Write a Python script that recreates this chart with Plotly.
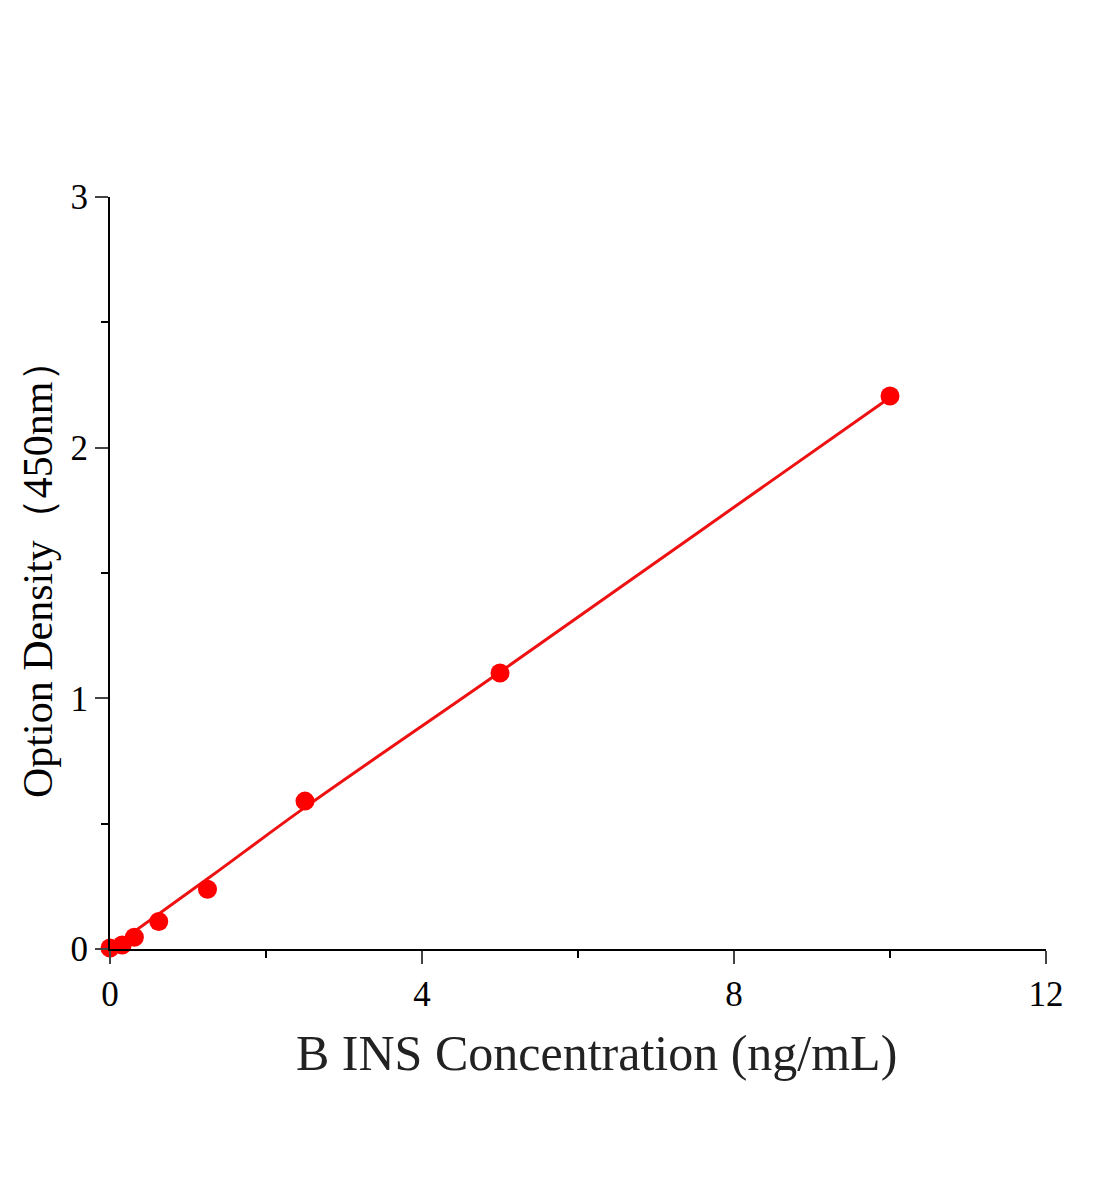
import plotly.graph_objects as go

conc = [0, 0.156, 0.312, 0.625, 1.25, 2.5, 5, 10]
od = [0.004, 0.016, 0.047, 0.110, 0.238, 0.590, 1.101, 2.206]
fit_x = [0, 1.25, 2.5, 5, 7.5, 10]
fit_y = [0.0, 0.28, 0.565, 1.105, 1.653, 2.20]

x_ticks = [0, 4, 8, 12]
y_ticks = [0, 1, 2, 3]

fig = go.Figure()
fig.add_trace(go.Scatter(x=fit_x, y=fit_y, mode="lines",
                         line=dict(color="#EE1111", width=3),
                         line_shape="spline", cliponaxis=False, showlegend=False))
fig.add_trace(go.Scatter(x=conc, y=od, mode="markers",
                         marker=dict(color="#FF0000", size=19),
                         cliponaxis=False, showlegend=False))

font = "Liberation Serif, Times New Roman, serif"
fig.update_layout(
    width=1104, height=1200,
    margin=dict(l=110, r=58, t=197, b=251),
    paper_bgcolor="white", plot_bgcolor="white",
    font=dict(family=font, color="black"),
    xaxis=dict(range=[0, 12], tickvals=x_ticks, ticks="outside", ticklen=13, tickwidth=2,
               showline=True, linecolor="black", linewidth=2, showgrid=False, zeroline=False,
               tickfont=dict(size=35, family=font),
               minor=dict(tickvals=[2, 6, 10], ticks="outside", ticklen=7, tickwidth=2, tickcolor="black")),
    yaxis=dict(range=[0, 3], tickvals=y_ticks, ticks="outside", ticklen=13, tickwidth=2,
               showline=True, linecolor="black", linewidth=2, showgrid=False, zeroline=False,
               tickfont=dict(size=35, family=font),
               minor=dict(tickvals=[0.5, 1.5, 2.5], ticks="outside", ticklen=7, tickwidth=2, tickcolor="black")),
    annotations=[
        dict(text="B INS Concentration (ng/mL)", xref="paper", yref="paper",
             x=(596 - 110) / 936, y=-(1053 - 949) / 752, xanchor="center", yanchor="middle",
             showarrow=False, font=dict(size=50, family=font, color="#222222")),
        dict(text="Option Density（450nm）", xref="paper", yref="paper",
             x=-(110 - 38) / 936, y=(949 - 569) / 752, xanchor="center", yanchor="middle",
             textangle=-90, showarrow=False, font=dict(size=42, family=font, color="black")),
    ],
)
fig.write_html("out.html")
